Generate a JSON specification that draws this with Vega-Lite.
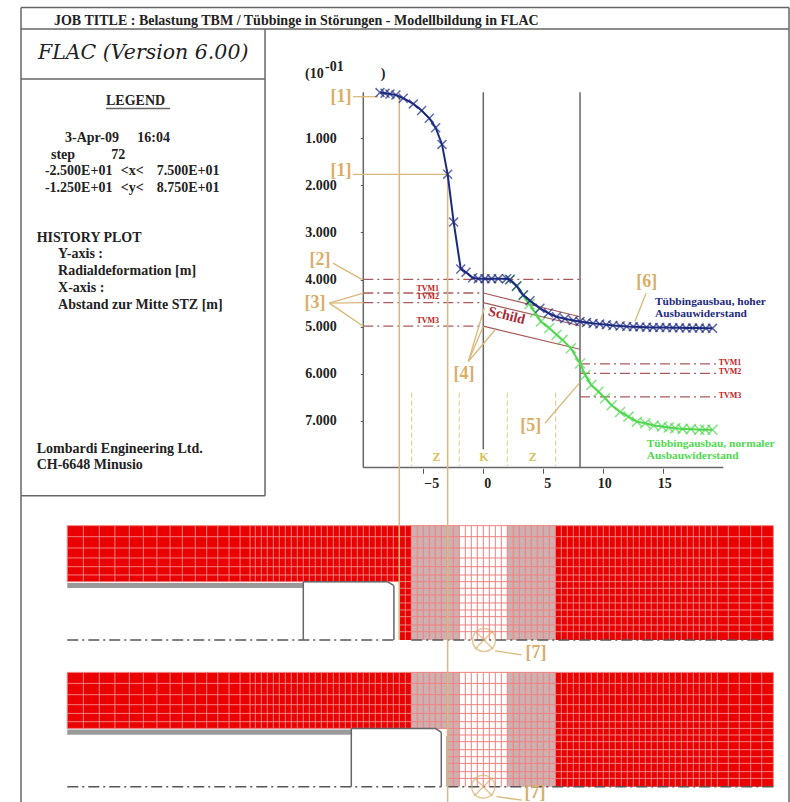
{"$schema":"https://vega.github.io/schema/vega-lite/v6.json","width":790,"height":802,"padding":0,"autosize":{"type":"none"},"background":"white","config":{"view":{"stroke":null}},
"datasets":{
"fills":[
{"x":-34.67,"x2":-6,"y":9.225,"y2":10.414,"z":"red"},{"x":-7,"x2":-6,"y":10.414,"y2":11.652,"z":"red"},{"x":6,"x2":24.17,"y":9.225,"y2":11.652,"z":"red"},
{"x":-6,"x2":-2,"y":9.225,"y2":11.652,"z":"grey"},{"x":2,"x2":6,"y":9.225,"y2":11.652,"z":"grey"},
{"x":-34.67,"x2":-6,"y":12.34,"y2":13.529,"z":"red"},{"x":6,"x2":24.17,"y":12.34,"y2":14.767,"z":"red"},
{"x":-6,"x2":-2,"y":12.34,"y2":13.529,"z":"grey"},{"x":-3,"x2":-2,"y":13.529,"y2":14.767,"z":"grey"},{"x":2,"x2":6,"y":12.34,"y2":14.767,"z":"grey"},
{"x":-34.67,"x2":-15,"y":10.44,"y2":10.55,"z":"bar"},{"x":-34.67,"x2":-11,"y":13.555,"y2":13.665,"z":"bar"}],
"cols":[
{"x":-34.67,"a":9.225,"b":10.414,"c":12.34,"d":13.529},{"x":-33.33,"a":9.225,"b":10.414,"c":12.34,"d":13.529},{"x":-32,"a":9.225,"b":10.414,"c":12.34,"d":13.529},{"x":-30.7,"a":9.225,"b":10.414,"c":12.34,"d":13.529},{"x":-29.5,"a":9.225,"b":10.414,"c":12.34,"d":13.529},{"x":-28.33,"a":9.225,"b":10.414,"c":12.34,"d":13.529},{"x":-27.2,"a":9.225,"b":10.414,"c":12.34,"d":13.529},{"x":-26.1,"a":9.225,"b":10.414,"c":12.34,"d":13.529},{"x":-25.08,"a":9.225,"b":10.414,"c":12.34,"d":13.529},{"x":-24,"a":9.225,"b":10.414,"c":12.34,"d":13.529},{"x":-23.05,"a":9.225,"b":10.414,"c":12.34,"d":13.529},{"x":-22.13,"a":9.225,"b":10.414,"c":12.34,"d":13.529},{"x":-21.19,"a":9.225,"b":10.414,"c":12.34,"d":13.529},{"x":-20.27,"a":9.225,"b":10.414,"c":12.34,"d":13.529},{"x":-19.44,"a":9.225,"b":10.414,"c":12.34,"d":13.529},
{"x":-19,"a":9.225,"b":10.414,"c":12.34,"d":13.529},{"x":-18.5,"a":9.225,"b":10.414,"c":12.34,"d":13.529},{"x":-18,"a":9.225,"b":10.414,"c":12.34,"d":13.529},{"x":-17.5,"a":9.225,"b":10.414,"c":12.34,"d":13.529},{"x":-17,"a":9.225,"b":10.414,"c":12.34,"d":13.529},{"x":-16.5,"a":9.225,"b":10.414,"c":12.34,"d":13.529},{"x":-16,"a":9.225,"b":10.414,"c":12.34,"d":13.529},{"x":-15.5,"a":9.225,"b":10.414,"c":12.34,"d":13.529},{"x":-15,"a":9.225,"b":10.414,"c":12.34,"d":13.529},{"x":-14.5,"a":9.225,"b":10.414,"c":12.34,"d":13.529},{"x":-14,"a":9.225,"b":10.414,"c":12.34,"d":13.529},{"x":-13.5,"a":9.225,"b":10.414,"c":12.34,"d":13.529},{"x":-13,"a":9.225,"b":10.414,"c":12.34,"d":13.529},{"x":-12.5,"a":9.225,"b":10.414,"c":12.34,"d":13.529},{"x":-12,"a":9.225,"b":10.414,"c":12.34,"d":13.529},{"x":-11.5,"a":9.225,"b":10.414,"c":12.34,"d":13.529},{"x":-11,"a":9.225,"b":10.414,"c":12.34,"d":13.529},{"x":-10.5,"a":9.225,"b":10.414,"c":12.34,"d":13.529},{"x":-10,"a":9.225,"b":10.414,"c":12.34,"d":13.529},{"x":-9.5,"a":9.225,"b":10.414,"c":12.34,"d":13.529},{"x":-9,"a":9.225,"b":10.414,"c":12.34,"d":13.529},{"x":-8.5,"a":9.225,"b":10.414,"c":12.34,"d":13.529},{"x":-8,"a":9.225,"b":10.414,"c":12.34,"d":13.529},{"x":-7.5,"a":9.225,"b":10.414,"c":12.34,"d":13.529},
{"x":-7,"a":9.225,"b":11.652,"c":12.34,"d":13.529},{"x":-6.5,"a":9.225,"b":11.652,"c":12.34,"d":13.529},{"x":-6,"a":9.225,"b":11.652,"c":12.34,"d":13.529},{"x":-5.5,"a":9.225,"b":11.652,"c":12.34,"d":13.529},{"x":-5,"a":9.225,"b":11.652,"c":12.34,"d":13.529},{"x":-4.5,"a":9.225,"b":11.652,"c":12.34,"d":13.529},{"x":-4,"a":9.225,"b":11.652,"c":12.34,"d":13.529},{"x":-3.5,"a":9.225,"b":11.652,"c":12.34,"d":13.529},
{"x":-3,"a":9.225,"b":11.652,"c":12.34,"d":14.767},{"x":-2.5,"a":9.225,"b":11.652,"c":12.34,"d":14.767},{"x":-2,"a":9.225,"b":11.652,"c":12.34,"d":14.767},{"x":-1.5,"a":9.225,"b":11.652,"c":12.34,"d":14.767},{"x":-1,"a":9.225,"b":11.652,"c":12.34,"d":14.767},{"x":-0.5,"a":9.225,"b":11.652,"c":12.34,"d":14.767},{"x":0,"a":9.225,"b":11.652,"c":12.34,"d":14.767},{"x":0.5,"a":9.225,"b":11.652,"c":12.34,"d":14.767},{"x":1,"a":9.225,"b":11.652,"c":12.34,"d":14.767},{"x":1.5,"a":9.225,"b":11.652,"c":12.34,"d":14.767},{"x":2,"a":9.225,"b":11.652,"c":12.34,"d":14.767},{"x":2.5,"a":9.225,"b":11.652,"c":12.34,"d":14.767},{"x":3,"a":9.225,"b":11.652,"c":12.34,"d":14.767},{"x":3.5,"a":9.225,"b":11.652,"c":12.34,"d":14.767},{"x":4,"a":9.225,"b":11.652,"c":12.34,"d":14.767},{"x":4.5,"a":9.225,"b":11.652,"c":12.34,"d":14.767},{"x":5,"a":9.225,"b":11.652,"c":12.34,"d":14.767},{"x":5.5,"a":9.225,"b":11.652,"c":12.34,"d":14.767},{"x":6,"a":9.225,"b":11.652,"c":12.34,"d":14.767},{"x":6.5,"a":9.225,"b":11.652,"c":12.34,"d":14.767},{"x":7,"a":9.225,"b":11.652,"c":12.34,"d":14.767},{"x":7.5,"a":9.225,"b":11.652,"c":12.34,"d":14.767},{"x":8,"a":9.225,"b":11.652,"c":12.34,"d":14.767},{"x":8.5,"a":9.225,"b":11.652,"c":12.34,"d":14.767},{"x":9,"a":9.225,"b":11.652,"c":12.34,"d":14.767},{"x":9.5,"a":9.225,"b":11.652,"c":12.34,"d":14.767},{"x":10,"a":9.225,"b":11.652,"c":12.34,"d":14.767},{"x":10.5,"a":9.225,"b":11.652,"c":12.34,"d":14.767},{"x":11,"a":9.225,"b":11.652,"c":12.34,"d":14.767},{"x":11.5,"a":9.225,"b":11.652,"c":12.34,"d":14.767},{"x":12,"a":9.225,"b":11.652,"c":12.34,"d":14.767},{"x":12.5,"a":9.225,"b":11.652,"c":12.34,"d":14.767},{"x":13,"a":9.225,"b":11.652,"c":12.34,"d":14.767},{"x":13.5,"a":9.225,"b":11.652,"c":12.34,"d":14.767},{"x":14,"a":9.225,"b":11.652,"c":12.34,"d":14.767},{"x":14.5,"a":9.225,"b":11.652,"c":12.34,"d":14.767},{"x":15,"a":9.225,"b":11.652,"c":12.34,"d":14.767},{"x":15.5,"a":9.225,"b":11.652,"c":12.34,"d":14.767},{"x":16,"a":9.225,"b":11.652,"c":12.34,"d":14.767},{"x":16.5,"a":9.225,"b":11.652,"c":12.34,"d":14.767},{"x":17,"a":9.225,"b":11.652,"c":12.34,"d":14.767},{"x":17.5,"a":9.225,"b":11.652,"c":12.34,"d":14.767},{"x":18,"a":9.225,"b":11.652,"c":12.34,"d":14.767},{"x":18.5,"a":9.225,"b":11.652,"c":12.34,"d":14.767},{"x":19,"a":9.225,"b":11.652,"c":12.34,"d":14.767},{"x":19.5,"a":9.225,"b":11.652,"c":12.34,"d":14.767},{"x":20.42,"a":9.225,"b":11.652,"c":12.34,"d":14.767},{"x":21.33,"a":9.225,"b":11.652,"c":12.34,"d":14.767},{"x":22.28,"a":9.225,"b":11.652,"c":12.34,"d":14.767},{"x":23.2,"a":9.225,"b":11.652,"c":12.34,"d":14.767},{"x":24.17,"a":9.225,"b":11.652,"c":12.34,"d":14.767}],
"meshRows":[
{"x":-34.67,"x2":24.17,"y":9.225,"y2":9.225},{"x":-34.67,"x2":24.17,"y":9.459,"y2":9.459},{"x":-34.67,"x2":24.17,"y":9.699,"y2":9.699},{"x":-34.67,"x2":24.17,"y":9.911,"y2":9.911},{"x":-34.67,"x2":24.17,"y":10.096,"y2":10.096},{"x":-34.67,"x2":24.17,"y":10.272,"y2":10.272},{"x":-34.67,"x2":24.17,"y":10.414,"y2":10.414},
{"x":-7,"x2":24.17,"y":10.554,"y2":10.554},{"x":-7,"x2":24.17,"y":10.696,"y2":10.696},{"x":-7,"x2":24.17,"y":10.866,"y2":10.866},{"x":-7,"x2":24.17,"y":11.015,"y2":11.015},{"x":-7,"x2":24.17,"y":11.157,"y2":11.157},{"x":-7,"x2":24.17,"y":11.333,"y2":11.333},{"x":-7,"x2":24.17,"y":11.476,"y2":11.476},
{"x":-34.67,"x2":24.17,"y":12.34,"y2":12.34},{"x":-34.67,"x2":24.17,"y":12.574,"y2":12.574},{"x":-34.67,"x2":24.17,"y":12.814,"y2":12.814},{"x":-34.67,"x2":24.17,"y":13.026,"y2":13.026},{"x":-34.67,"x2":24.17,"y":13.211,"y2":13.211},{"x":-34.67,"x2":24.17,"y":13.387,"y2":13.387},{"x":-34.67,"x2":24.17,"y":13.529,"y2":13.529},
{"x":-3,"x2":24.17,"y":13.669,"y2":13.669},{"x":-3,"x2":24.17,"y":13.811,"y2":13.811},{"x":-3,"x2":24.17,"y":13.981,"y2":13.981},{"x":-3,"x2":24.17,"y":14.13,"y2":14.13},{"x":-3,"x2":24.17,"y":14.272,"y2":14.272},{"x":-3,"x2":24.17,"y":14.448,"y2":14.448},{"x":-3,"x2":24.17,"y":14.591,"y2":14.591}],
"frame":[
{"x":-38.525,"x2":25.475,"y":-1.775,"y2":-1.775},{"x":-38.525,"x2":25.475,"y":-1.32,"y2":-1.32},{"x":-38.525,"x2":-38.525,"y":-1.775,"y2":15.09},{"x":25.475,"x2":25.475,"y":-1.775,"y2":15.09},
{"x":-18.19,"x2":-18.19,"y":-1.32,"y2":8.59},{"x":-38.525,"x2":-18.19,"y":-0.259,"y2":-0.259},{"x":-38.525,"x2":-18.19,"y":8.59,"y2":8.59},
{"x":-31.44,"x2":-26.1,"y":0.37,"y2":0.37},
{"x":-10,"x2":-10,"y":0.02,"y2":7.99},{"x":-10,"x2":20,"y":7.99,"y2":7.99},{"x":0,"x2":0,"y":0.02,"y2":7.6},{"x":8.06,"x2":8.06,"y":0.02,"y2":7.99},
{"x":-15,"x2":-15,"y":10.42,"y2":11.652},{"x":-15,"x2":-8,"y":10.414,"y2":10.414},{"x":-8,"x2":-7.45,"y":10.414,"y2":10.5},{"x":-7.45,"x2":-7.45,"y":10.5,"y2":11.652},
{"x":-11,"x2":-11,"y":13.535,"y2":14.767},{"x":-11,"x2":-4,"y":13.529,"y2":13.529},{"x":-4,"x2":-3.5,"y":13.529,"y2":13.615},{"x":-3.5,"x2":-3.5,"y":13.615,"y2":14.767},{"x":-3,"x2":-3,"y":13.69,"y2":14.767}],
"center":[{"x":-34.67,"x2":-7.45,"y":11.652,"y2":11.652},{"x":-6,"x2":24.17,"y":11.652,"y2":11.652},{"x":-34.67,"x2":-3.5,"y":14.767,"y2":14.767},{"x":-3,"x2":24.17,"y":14.767,"y2":14.767}],
"tvm":[{"x":-10,"x2":8.06,"y":3.995,"y2":3.995},{"x":-10,"x2":0,"y":4.285,"y2":4.285},{"x":-10,"x2":0,"y":4.49,"y2":4.49},{"x":-10,"x2":0,"y":4.99,"y2":4.99},{"x":8.06,"x2":19.45,"y":5.79,"y2":5.79},{"x":8.06,"x2":19.45,"y":5.99,"y2":5.99},{"x":8.06,"x2":19.45,"y":6.49,"y2":6.49}],
"shield":[{"x":0,"x2":8.06,"y":4.285,"y2":4.79},{"x":0,"x2":8.06,"y":4.49,"y2":4.98},{"x":0,"x2":8.06,"y":4.99,"y2":5.48}],
"zones":[{"x":-5.97,"x2":-5.97,"y":6.4,"y2":7.96},{"x":-2,"x2":-2,"y":6.4,"y2":7.96},{"x":2,"x2":2,"y":6.4,"y2":7.96},{"x":6.03,"x2":6.03,"y":6.4,"y2":7.96}],
"orangeV":[{"x":-7,"x2":-7,"y":0.117,"y2":11.652},{"x":-2.97,"x2":-2.97,"y":1.765,"y2":15.09}],
"leaders":[{"x":-10.86,"x2":-8.78,"y":0.117,"y2":0.117},{"x":-10.86,"x2":-2.97,"y":1.765,"y2":1.765},{"x":-12.53,"x2":-10.13,"y":3.65,"y2":3.995},{"x":-12.83,"x2":-10,"y":4.5,"y2":4.29},{"x":-12.83,"x2":-10,"y":4.5,"y2":4.49},{"x":-12.83,"x2":-10,"y":4.5,"y2":4.99},{"x":-1.25,"x2":0.08,"y":5.74,"y2":4.61},{"x":-1.25,"x2":0,"y":5.74,"y2":4.99},{"x":-1.25,"x2":0.975,"y":5.74,"y2":5.07},{"x":5.14,"x2":8,"y":7.05,"y2":6.2},{"x":13.56,"x2":12.64,"y":4.29,"y2":4.89},{"x":0.975,"x2":3.2,"y":11.885,"y2":11.97},{"x":1.1,"x2":3.2,"y":14.98,"y2":15.05}],
"valves":[{"x":0.06,"y":11.652},{"x":0,"y":14.767}],
"curves":[
{"s":"b","x":-8.61,"y":0.03},{"s":"b","x":-8.19,"y":0.045},{"s":"b","x":-7.78,"y":0.06},{"s":"b","x":-7.28,"y":0.08},{"s":"b","x":-6.67,"y":0.15},{"s":"b","x":-5.83,"y":0.27},{"s":"b","x":-5.14,"y":0.41},{"s":"b","x":-4.5,"y":0.576},{"s":"b","x":-3.97,"y":0.775},{"s":"b","x":-3.44,"y":1.13},{"s":"b","x":-2.97,"y":1.765},{"s":"b","x":-2.47,"y":2.78},{"s":"b","x":-1.88,"y":3.775},{"s":"b","x":-1.44,"y":3.845},{"s":"b","x":-0.89,"y":3.96},{"s":"b","x":-0.41,"y":3.98},{"s":"b","x":0.14,"y":3.98},{"s":"b","x":0.69,"y":3.98},{"s":"b","x":1.25,"y":3.98},{"s":"b","x":1.94,"y":3.98},{"s":"b","x":2.22,"y":4.0},{"s":"b","x":2.78,"y":4.136},{"s":"b","x":3.33,"y":4.327},{"s":"b","x":3.89,"y":4.447},{"s":"b","x":4.72,"y":4.61},{"s":"b","x":5.42,"y":4.71},{"s":"b","x":6.1,"y":4.79},{"s":"b","x":6.8,"y":4.83},{"s":"b","x":7.5,"y":4.87},{"s":"b","x":8.06,"y":4.89},{"s":"b","x":8.6,"y":4.91},{"s":"b","x":9.15,"y":4.93},{"s":"b","x":9.7,"y":4.945},{"s":"b","x":10.25,"y":4.96},{"s":"b","x":10.8,"y":4.975},{"s":"b","x":11.4,"y":4.985},{"s":"b","x":11.95,"y":4.995},{"s":"b","x":12.5,"y":5.0},{"s":"b","x":13.05,"y":5.005},{"s":"b","x":13.6,"y":5.01},{"s":"b","x":14.15,"y":5.015},{"s":"b","x":14.7,"y":5.02},{"s":"b","x":15.25,"y":5.02},{"s":"b","x":15.8,"y":5.025},{"s":"b","x":16.35,"y":5.025},{"s":"b","x":16.9,"y":5.03},{"s":"b","x":17.45,"y":5.03},{"s":"b","x":18,"y":5.03},{"s":"b","x":18.55,"y":5.035},{"s":"b","x":19.1,"y":5.035},
{"s":"g","x":2.22,"y":4.0},{"s":"g","x":2.78,"y":4.14},{"s":"g","x":3.33,"y":4.34},{"s":"g","x":3.85,"y":4.52},{"s":"g","x":4.31,"y":4.7},{"s":"g","x":4.8,"y":4.89},{"s":"g","x":5.5,"y":5.03},{"s":"g","x":6.1,"y":5.17},{"s":"g","x":6.6,"y":5.28},{"s":"g","x":7.3,"y":5.46},{"s":"g","x":8.06,"y":5.78},{"s":"g","x":8.5,"y":6.03},{"s":"g","x":9.0,"y":6.24},{"s":"g","x":9.6,"y":6.38},{"s":"g","x":10.15,"y":6.52},{"s":"g","x":10.7,"y":6.67},{"s":"g","x":11.4,"y":6.81},{"s":"g","x":12.1,"y":6.91},{"s":"g","x":12.8,"y":7.02},{"s":"g","x":13.5,"y":7.05},{"s":"g","x":14.2,"y":7.1},{"s":"g","x":14.9,"y":7.12},{"s":"g","x":15.45,"y":7.14},{"s":"g","x":16,"y":7.155},{"s":"g","x":16.6,"y":7.17},{"s":"g","x":17.3,"y":7.175},{"s":"g","x":18,"y":7.19},{"s":"g","x":18.5,"y":7.19},{"s":"g","x":19.1,"y":7.19}],
"blackText":[
{"x":-35.78,"y":-1.49,"t":"JOB TITLE : Belastung TBM / Tübbinge in Störungen - Modellbildung in FLAC"},
{"x":-31.44,"y":0.208,"t":"LEGEND"},{"x":-34.86,"y":0.994,"t":"3-Apr-09"},{"x":-28.83,"y":0.994,"t":"16:04"},{"x":-36.03,"y":1.355,"t":"step"},{"x":-31,"y":1.355,"t":"72"},
{"x":-36.53,"y":1.705,"t":"-2.500E+01"},{"x":-30.22,"y":1.705,"t":"<x<"},{"x":-27.22,"y":1.705,"t":"7.500E+01"},{"x":-36.53,"y":2.055,"t":"-1.250E+01"},{"x":-30.22,"y":2.055,"t":"<y<"},{"x":-27.22,"y":2.055,"t":"8.750E+01"},
{"x":-37.22,"y":3.11,"t":"HISTORY PLOT"},{"x":-35.44,"y":3.457,"t":"Y-axis :"},{"x":-35.44,"y":3.817,"t":"Radialdeformation [m]"},{"x":-35.44,"y":4.178,"t":"X-axis :"},{"x":-35.44,"y":4.53,"t":"Abstand zur Mitte STZ [m]"},
{"x":-37.22,"y":7.6,"t":"Lombardi Engineering Ltd."},{"x":-37.22,"y":7.94,"t":"CH-6648 Minusio"},
{"x":-14.86,"y":-0.365,"t":"(10"},{"x":-13.19,"y":-0.52,"t":"-01"},{"x":-8.55,"y":-0.365,"t":")"}],
"orangeText":[{"x":-11.86,"y":0.117,"t":"[1]"},{"x":-11.86,"y":1.687,"t":"[1]"},{"x":-13.6,"y":3.584,"t":"[2]"},{"x":-14.03,"y":4.504,"t":"[3]"},{"x":-1.61,"y":6.0,"t":"[4]"},{"x":3.95,"y":7.11,"t":"[5]"},{"x":13.62,"y":4.06,"t":"[6]"},{"x":4.39,"y":11.935,"t":"[7]"},{"x":4.31,"y":14.9,"t":"[7]"}],
"zoneText":[{"x":-3.89,"y":7.77,"t":"Z"},{"x":0.06,"y":7.77,"t":"K"},{"x":4.12,"y":7.77,"t":"Z"}],
"tvmText":[{"x":-4.63,"y":4.2,"t":"TVM1"},{"x":-4.63,"y":4.38,"t":"TVM2"},{"x":-4.63,"y":4.89,"t":"TVM3"},{"x":20.56,"y":5.77,"t":"TVM1"},{"x":20.56,"y":5.97,"t":"TVM2"},{"x":20.56,"y":6.47,"t":"TVM3"}],
"noteText":[{"x":14.31,"y":4.47,"t":"Tübbingausbau, hoher","s":"b"},{"x":14.31,"y":4.73,"t":"Ausbauwiderstand","s":"b"},{"x":13.62,"y":7.49,"t":"Tübbingausbau, normaler","s":"g"},{"x":13.62,"y":7.75,"t":"Ausbauwiderstand","s":"g"}]
},
"encoding":{
"x":{"field":"x","type":"quantitative","title":null,"scale":{"domain":[-40.275,25.558],"nice":false,"zero":false},"axis":{"values":[-5,0,5,10,15],"domain":false,"grid":false,"offset":-333.7,"tickSize":5,"tickColor":"#555","labelFont":"Liberation Serif","labelFontWeight":"bold","labelFontSize":14,"labelColor":"#222","labelPadding":3,"labelOffset":{"expr":"datum.value >= 10 ? 1 : datum.value < 0 ? 8 : 4"},"title":null}},
"y":{"field":"y","type":"quantitative","title":null,"scale":{"domain":[15.092,-1.936],"nice":false,"zero":false},"axis":{"values":[1,2,3,4,5,6,7],"format":".3f","domain":false,"grid":false,"offset":-363.3,"tickSize":3,"tickColor":"#555","labelFont":"Liberation Serif","labelFontWeight":"bold","labelFontSize":14,"labelColor":"#222","labelPadding":24,"title":null}}
},
"layer":[
{"data":{"name":"fills"},"mark":{"type":"rect"},"encoding":{"x2":{"field":"x2"},"y2":{"field":"y2"},"color":{"field":"z","type":"nominal","legend":null,"scale":{"domain":["red","grey","bar"],"range":["#ea0000","#ceb0b0","#9a9a9a"]}}}},
{"data":{"name":"cols"},"mark":{"type":"rule","color":"#f08080","strokeWidth":1},"encoding":{"y":{"field":"a"},"y2":{"field":"b"}}},
{"data":{"name":"cols"},"mark":{"type":"rule","color":"#f08080","strokeWidth":1},"encoding":{"y":{"field":"c"},"y2":{"field":"d"}}},
{"data":{"name":"meshRows"},"mark":{"type":"rule","color":"#f08080","strokeWidth":1},"encoding":{"x2":{"field":"x2"},"y2":{"field":"y2"}}},
{"data":{"name":"center"},"mark":{"type":"rule","color":"#555","strokeWidth":1.5,"strokeDash":[11,4,2,4]},"encoding":{"x2":{"field":"x2"},"y2":{"field":"y2"}}},
{"data":{"name":"frame"},"mark":{"type":"rule","color":"#666","strokeWidth":1.5},"encoding":{"x2":{"field":"x2"},"y2":{"field":"y2"}}},
{"data":{"name":"zones"},"mark":{"type":"rule","color":"#dcc878","strokeWidth":1,"strokeDash":[5,3]},"encoding":{"x2":{"field":"x2"},"y2":{"field":"y2"}}},
{"data":{"name":"tvm"},"mark":{"type":"rule","color":"#a85a5a","strokeWidth":1.3,"strokeDash":[10,4,2,4]},"encoding":{"x2":{"field":"x2"},"y2":{"field":"y2"}}},
{"data":{"name":"shield"},"mark":{"type":"rule","color":"#a85a5a","strokeWidth":1.2},"encoding":{"x2":{"field":"x2"},"y2":{"field":"y2"}}},
{"data":{"name":"orangeV"},"mark":{"type":"rule","color":"#d9b878","strokeWidth":1.5},"encoding":{"x2":{"field":"x2"},"y2":{"field":"y2"}}},
{"data":{"name":"leaders"},"mark":{"type":"rule","color":"#d9b878","strokeWidth":1.3},"encoding":{"x2":{"field":"x2"},"y2":{"field":"y2"}}},
{"data":{"name":"curves"},"transform":[{"filter":"datum.s === 'g'"}],"mark":{"type":"line","color":"#50d850","strokeWidth":2}},
{"data":{"name":"curves"},"transform":[{"filter":"datum.s === 'g'"}],"mark":{"type":"point","shape":"M-1,-1L1,1M-1,1L1,-1","color":"#50d850","filled":false,"size":100,"strokeWidth":1.5}},
{"data":{"name":"curves"},"transform":[{"filter":"datum.s === 'b'"}],"mark":{"type":"line","color":"#1c2a80","strokeWidth":2}},
{"data":{"name":"curves"},"transform":[{"filter":"datum.s === 'b'"}],"mark":{"type":"point","shape":"M-1,-1L1,1M-1,1L1,-1","color":"#1c2a80","filled":false,"size":80,"strokeWidth":1.5}},
{"data":{"name":"valves"},"mark":{"type":"point","shape":"circle","color":"#d9b070","filled":false,"size":530,"strokeWidth":1.5}},
{"data":{"name":"valves"},"mark":{"type":"point","shape":"M-1,-1L1,1M-1,1L1,-1","color":"#d9b070","filled":false,"size":340,"strokeWidth":1.5}},
{"data":{"name":"blackText"},"mark":{"type":"text","font":"Liberation Serif","fontWeight":"bold","fontSize":14,"align":"left","baseline":"middle","color":"#222"},"encoding":{"text":{"field":"t"}}},
{"data":{"values":[{"x":-37.11,"y":-0.817,"t":"FLAC (Version 6.00)"}]},"mark":{"type":"text","font":"DejaVu Serif","fontStyle":"italic","fontSize":20.5,"align":"left","baseline":"middle","color":"#222"},"encoding":{"text":{"field":"t"}}},
{"data":{"name":"orangeText"},"mark":{"type":"text","font":"Liberation Serif","fontWeight":"bold","fontSize":18,"align":"center","baseline":"middle","color":"#d9ae68"},"encoding":{"text":{"field":"t"}}},
{"data":{"name":"zoneText"},"mark":{"type":"text","font":"Liberation Serif","fontWeight":"bold","fontSize":12,"align":"center","baseline":"middle","color":"#d4c060"},"encoding":{"text":{"field":"t"}}},
{"data":{"name":"tvmText"},"mark":{"type":"text","font":"Liberation Serif","fontWeight":"bold","fontSize":8,"align":"center","baseline":"middle","color":"#c02020"},"encoding":{"text":{"field":"t"}}},
{"data":{"values":[{"x":1.95,"y":4.77,"t":"Schild"}]},"mark":{"type":"text","font":"Liberation Serif","fontWeight":"bold","fontSize":14,"angle":14,"align":"center","baseline":"middle","color":"#a82838"},"encoding":{"text":{"field":"t"}}},
{"data":{"name":"noteText"},"transform":[{"filter":"datum.s === 'b'"}],"mark":{"type":"text","font":"Liberation Serif","fontWeight":"bold","fontSize":11.4,"align":"left","baseline":"middle","color":"#1c2a80"},"encoding":{"text":{"field":"t"}}},
{"data":{"name":"noteText"},"transform":[{"filter":"datum.s === 'g'"}],"mark":{"type":"text","font":"Liberation Serif","fontWeight":"bold","fontSize":11.4,"align":"left","baseline":"middle","color":"#50d850"},"encoding":{"text":{"field":"t"}}}
]}
